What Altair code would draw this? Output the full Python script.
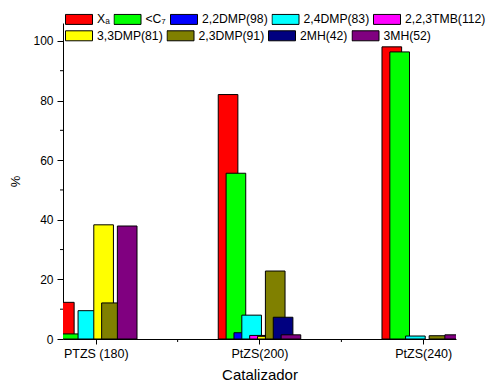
import altair as alt
import pandas as pd

categories = ["PTZS (180)", "PtZS(200)", "PtZS(240)"]
series = ["X\u2090", "<C\u2087", "2,2DMP(98)", "2,4DMP(83)", "2,2,3TMB(112)",
          "3,3DMP(81)", "2,3DMP(91)", "2MH(42)", "3MH(52)"]
colors = ["#ff0000", "#00ff00", "#0000ff", "#00ffff", "#ff00ff",
          "#ffff00", "#808000", "#000080", "#800080"]
ptzs_180 = [12.3, 1.7, 0, 9.5, 0, 38.3, 12.1, 0, 37.9]
ptzs_200 = [82.0, 55.6, 2.1, 8.0, 1.2, 0.9, 22.8, 7.3, 1.4]
ptzs_240 = [98.0, 96.3, 0, 1.0, 0, 0, 1.1, 0, 1.4]
y_major = [0, 20, 40, 60, 80, 100]
y_minor = [10, 30, 50, 70, 90]
x_major = [1, 2, 3]
x_minor = [1.5, 2.5]

rows = []
for g, vals in enumerate([ptzs_180, ptzs_200, ptzs_240], start=1):
    for i, (s, v) in enumerate(zip(series, vals)):
        rows.append({"grupo": g, "idx": i, "serie": s, "valor": v})
df = pd.DataFrame(rows)

FONT = "Liberation Sans"
xscale = alt.Scale(domain=[0.8, 3.2], nice=False, zero=False)
yscale = alt.Scale(domain=[0, 106], nice=False)

label_expr = (f"datum.value == 1 ? '{categories[0]}' : "
              f"datum.value == 2 ? '{categories[1]}' : '{categories[2]}'")

xaxis = alt.Axis(values=x_major, labelExpr=label_expr, tickSize=5, tickColor="black",
                 domainColor="black", labelColor="black", labelFont=FONT, labelFontSize=12.5,
                 titleFont=FONT, titleFontSize=15, titleFontWeight="normal", titleColor="black",
                 titlePadding=8, labelPadding=3, grid=False)
yaxis = alt.Axis(values=y_major, tickSize=6, tickColor="black", domainColor="black",
                 labelColor="black", labelFont=FONT, labelFontSize=12, titleFont=FONT,
                 titleFontSize=13, titleFontWeight="normal", titleColor="black",
                 titlePadding=10, labelPadding=4, grid=False)


def make_legend(y):
    return alt.Legend(orient="none", legendX=2, legendY=y, direction="horizontal",
                      title=None, symbolType="M-1,-0.37H1V0.37H-1Z", symbolSize=729,
                      symbolStrokeColor="black", symbolStrokeWidth=1, symbolOpacity=1,
                      labelFont=FONT, labelFontSize=12.2, labelColor="black", labelOffset=4,
                      columnPadding=3.5, clipHeight=12, padding=0, labelLimit=300)


def bar_layer(lo, hi, legend_y):
    return alt.Chart(df).transform_filter(
        f"datum.valor > 0 && datum.idx >= {lo} && datum.idx < {hi}"
    ).transform_calculate(
        x0="datum.grupo + (datum.idx - 4) * 0.048 - 0.06",
        x1="datum.grupo + (datum.idx - 4) * 0.048 + 0.06",
    ).mark_bar(stroke="black", strokeWidth=1, clip=True).encode(
        x=alt.X("x0:Q", scale=xscale, axis=xaxis, title="Catalizador"),
        x2="x1:Q",
        y=alt.Y("valor:Q", scale=yscale, axis=yaxis, title="%", stack=None),
        y2=alt.datum(0),
        color=alt.Color("serie:N", scale=alt.Scale(domain=series[lo:hi], range=colors[lo:hi]),
                        legend=make_legend(legend_y)),
    )


bars_a = bar_layer(0, 5, -10)
bars_b = bar_layer(5, 9, 6.4)

yminor = alt.Chart(pd.DataFrame({"v": y_minor})).mark_rule(color="black", strokeWidth=1).encode(
    y=alt.Y("v:Q", scale=yscale, axis=yaxis, title="%"),
    x=alt.value(-3), x2=alt.value(0),
)

xminor = alt.Chart(pd.DataFrame({"t": x_minor})).mark_rule(color="black", strokeWidth=1).encode(
    x=alt.X("t:Q", scale=xscale, axis=xaxis, title="Catalizador"),
    y=alt.value(316), y2=alt.value(319),
)

chart = alt.layer(bars_a, bars_b, yminor, xminor).resolve_scale(color="independent").properties(
    width=393, height=316,
    autosize=alt.AutoSizeParams(type="none"),
    padding={"left": 63, "top": 23, "right": 37, "bottom": 47},
    background="white",
).configure_view(stroke=None)

chart.save("out.html", embed_options={"renderer": "svg", "actions": False})
